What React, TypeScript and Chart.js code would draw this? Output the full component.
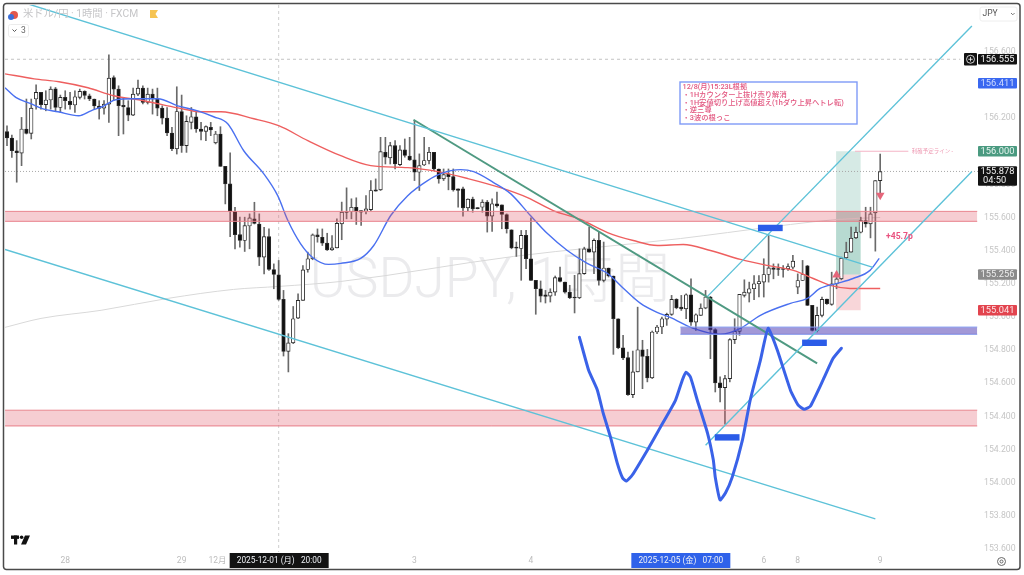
import React, { useEffect, useRef } from "react";
import { Chart, registerables } from "chart.js";

Chart.register(...registerables);

const opens = [
156.118,156.080,156.003,155.989,156.134,156.108,156.315,156.355,156.281,156.309,
156.377,156.264,156.325,156.301,156.279,156.325,156.361,156.335,156.315,156.273,
156.260,156.284,156.445,156.375,156.277,156.264,156.218,156.345,156.381,156.295,
156.345,156.315,156.260,156.200,156.110,156.015,156.240,156.034,156.174,156.208,
156.134,156.120,156.144,156.050,156.104,155.909,155.803,155.638,155.497,155.461,
155.549,155.592,155.561,155.361,155.485,155.286,155.254,155.106,154.792,154.843,
154.993,155.100,155.286,155.351,155.495,155.481,155.445,155.405,155.417,155.562,
155.636,155.636,155.662,155.642,155.638,155.648,155.767,155.767,155.994,155.960,
156.034,155.919,156.008,155.970,155.948,155.873,155.917,155.944,155.994,155.893,
155.833,155.863,155.847,155.773,155.773,155.658,155.711,155.660,155.662,155.693,
155.608,155.683,155.676,155.618,155.526,155.421,155.413,155.492,155.351,155.221,
155.170,155.134,155.126,155.150,155.237,155.211,155.150,155.120,155.116,155.261,
155.411,155.391,155.462,155.221,155.295,155.247,154.989,154.814,154.754,154.531,
154.668,154.802,154.762,154.632,154.909,154.939,154.987,155.015,155.106,155.059,
155.049,155.134,154.969,155.009,155.053,155.120,154.923,154.602,154.573,154.628,
154.863,154.913,155.130,155.144,155.170,155.200,155.210,155.256,155.296,155.292,
155.292,155.290,155.300,155.180,155.220,155.308,155.070,154.919,155.009,155.108,
155.076,155.200,155.230,155.357,155.391,155.477,155.511,155.582,155.562,155.628,155.823];

const closes = [
156.080,156.003,155.991,156.134,156.108,156.260,156.355,156.281,156.309,156.375,
156.264,156.325,156.305,156.281,156.329,156.361,156.337,156.315,156.273,156.258,
156.284,156.441,156.375,156.275,156.268,156.218,156.345,156.381,156.295,156.345,
156.315,156.260,156.200,156.110,156.015,156.240,156.034,156.180,156.208,156.134,
156.120,156.148,156.128,156.104,155.909,155.803,155.638,155.497,155.461,155.551,
155.598,155.565,155.361,155.485,155.286,155.256,155.106,154.792,154.843,154.989,
155.100,155.284,155.351,155.495,155.485,155.445,155.405,155.417,155.565,155.632,
155.630,155.662,155.636,155.632,155.652,155.763,155.759,155.998,155.964,156.034,
155.923,156.008,155.974,155.948,155.873,155.913,155.944,155.994,155.893,155.833,
155.859,155.847,155.767,155.763,155.658,155.711,155.652,155.654,155.693,155.608,
155.683,155.670,155.618,155.532,155.417,155.415,155.492,155.351,155.221,155.170,
155.126,155.124,155.150,155.237,155.215,155.150,155.116,155.114,155.261,155.411,
155.391,155.462,155.221,155.295,155.247,154.990,154.814,154.752,154.531,154.668,
154.802,154.762,154.632,154.909,154.939,154.989,155.015,155.106,155.055,155.049,
155.134,154.969,155.013,155.053,155.120,154.923,154.602,154.573,154.628,154.863,
154.913,155.136,155.150,155.170,155.200,155.214,155.256,155.296,155.286,155.286,
155.286,155.304,155.337,155.220,155.256,155.069,154.919,155.009,155.106,155.080,
155.200,155.230,155.355,155.391,155.475,155.511,155.582,155.562,155.622,155.823,155.877];

const highs = [
156.154,156.098,156.064,156.204,156.315,156.315,156.401,156.355,156.365,156.389,
156.385,156.339,156.365,156.355,156.365,156.375,156.365,156.345,156.315,156.305,
156.305,156.582,156.455,156.395,156.325,156.305,156.381,156.429,156.395,156.381,
156.375,156.381,156.274,156.264,156.144,156.389,156.339,156.214,156.264,156.244,
156.174,156.154,156.174,156.120,156.148,155.909,155.991,155.662,155.602,155.602,
155.622,155.692,155.622,155.541,155.531,155.320,155.341,155.160,154.899,155.063,
155.140,155.310,155.391,155.501,155.531,155.531,155.505,155.491,155.592,155.693,
155.779,155.713,155.719,155.642,155.733,155.823,155.833,156.084,156.084,156.054,
156.064,156.034,156.074,156.084,156.185,155.984,156.084,156.024,155.994,155.893,
155.893,155.893,155.893,155.773,155.783,155.713,155.723,155.660,155.707,155.703,
155.713,155.753,155.676,155.622,155.526,155.452,155.522,155.522,155.598,155.221,
155.217,155.160,155.170,155.247,155.301,155.211,155.191,155.251,155.411,155.421,
155.542,155.472,155.512,155.452,155.295,155.247,154.989,154.889,154.788,154.794,
155.059,154.859,154.804,154.915,154.949,154.999,155.023,155.130,155.110,155.130,
155.140,155.230,155.019,155.079,155.160,155.124,154.929,154.638,154.648,154.869,
154.989,155.136,155.224,155.210,155.250,155.250,155.351,155.491,155.320,155.320,
155.310,155.320,155.371,155.260,155.341,155.311,155.070,155.059,155.120,155.108,
155.270,155.270,155.361,155.451,155.542,155.542,155.602,155.662,155.662,155.823,155.983];

const lows = [
156.034,155.963,155.813,155.913,156.104,156.074,156.254,156.254,156.244,156.254,
156.244,156.234,156.254,156.254,156.234,156.315,156.315,156.305,156.254,156.194,
156.224,156.174,156.305,156.094,156.104,156.184,156.214,156.335,156.285,156.285,
156.224,156.214,156.164,156.094,156.003,155.983,155.993,155.993,156.134,156.114,
156.068,156.064,156.094,156.044,155.909,155.682,155.485,155.411,155.421,155.395,
155.411,155.561,155.310,155.260,155.280,155.170,155.100,154.764,154.668,154.839,
154.989,155.100,155.270,155.345,155.451,155.431,155.401,155.401,155.417,155.466,
155.592,155.592,155.558,155.552,155.622,155.642,155.759,155.763,155.923,155.923,
155.893,155.913,155.964,155.944,155.823,155.763,155.913,155.923,155.883,155.807,
155.823,155.767,155.759,155.662,155.608,155.642,155.632,155.652,155.632,155.512,
155.516,155.662,155.532,155.506,155.411,155.365,155.221,155.291,155.221,155.016,
155.090,155.084,155.090,155.130,155.211,155.144,155.110,155.024,155.110,155.257,
155.391,155.261,155.191,155.211,155.241,154.774,154.808,154.742,154.527,154.513,
154.668,154.567,154.608,154.628,154.899,154.899,154.949,155.009,155.049,155.039,
154.989,154.949,154.919,155.009,155.049,154.748,154.547,154.487,154.353,154.608,
154.839,154.889,155.120,155.090,155.104,155.120,155.120,155.210,155.230,155.250,
155.240,155.280,155.290,155.140,155.220,155.069,154.915,154.909,155.000,155.075,
155.070,155.170,155.224,155.351,155.391,155.473,155.507,155.542,155.477,155.397,155.732];

const blueMaX = [-0.4,1.9,4.9,7.4,10.5,14.8,17.3,20,22.4,26.2,31.1,35.2,39.3,42.6,45.5,48.8,52.9,55.8,57.9,60.5,63,66.3,68.8,72.9,75.6,79.1,82.6,86.7,89.4,93.5,96.2,100.3,103.8,107.9,111.4,115.5,119.6,123.8,127.1,130.6,134,136.7,141.5,147,151.2,155.3,161.5,165,167.6,171.1,174.4,177.9,179.8];
const blueMaY = [156.383,156.323,156.287,156.256,156.238,156.214,156.244,156.274,156.311,156.317,156.317,156.274,156.244,156.208,156.166,156.003,155.865,155.732,155.582,155.443,155.359,155.317,155.323,155.353,155.431,155.612,155.732,155.823,155.865,155.889,155.877,155.811,155.744,155.612,155.503,155.401,155.323,155.262,155.172,155.082,155.028,154.997,154.931,154.895,154.931,155.010,155.082,155.112,155.172,155.202,155.232,155.281,155.353];

const redMaX = [-0.4,5.6,10.7,16.7,22,28.2,35.2,40,44.1,50.9,56,62,68.8,75,82.6,88.8,95,101.7,107.3,112.6,118.2,123.8,129.1,134.1,139.4,145,151.2,156.7,162.1,166.2,169.7,173.8,180];
const redMaY = [156.467,156.437,156.419,156.383,156.335,156.305,156.262,156.238,156.238,156.196,156.154,156.064,155.973,155.913,155.901,155.877,155.835,155.780,155.720,155.642,155.588,155.509,155.461,155.431,155.437,155.401,155.347,155.311,155.281,155.232,155.190,155.172,155.172];

const grayMaX = [-0.4,7,19.4,33.2,46.7,56,68.8,104.4,138.8,148.5,161.5,171.1,180];
const grayMaY = [154.937,154.991,155.040,155.112,155.166,155.184,155.214,155.365,155.473,155.509,155.558,155.588,155.600];

const waveX = [118,119.9,121.7,122.9,124.4,125.8,126.9,127.7,128.9,132,134.7,137.8,139.2,140,140.9,142.3,144.4,145.6,146,147,148.1,149.5,151.6,153.2,155.3,156.9,158.8,161.5,163.1,164.3,165.6,168.2,170.3,172];
const waveY = [154.877,154.678,154.558,154.419,154.275,154.118,154.028,154.009,154.046,154.196,154.335,154.497,154.618,154.666,154.636,154.497,154.299,154.136,154.033,153.895,153.937,154.033,154.256,154.497,154.738,154.931,154.799,154.558,154.467,154.443,154.461,154.618,154.750,154.811];

const channelLines = [
  { x: [4.3, 178.5], y: [156.889, 155.299] },
  { x: [-0.4, 179], y: [155.407, 153.781] },
  { x: [144.4, 198.9], y: [155.124, 156.756] },
  { x: [144, 198.9], y: [154.226, 155.877] },
];
const greenTrendX = [83.8, 167];
const greenTrendY = [156.19, 154.72];

const zonePrices = [
  [155.577, 155.637],
  [154.342, 154.437],
];
const zoneSpan = [-0.4, 200];
const supportZone = [154.895, 154.939];
const supportSpan = [138.8, 200];

const positionSpan = [170.9, 176];
const targetPrice = 156.0;
const entryPrice = 155.256;
const stopPrice = 155.041;
const lastPrice = 155.878;
const crosshairPrice = 156.555;
const crosshairIndex = 56;
const overlapLow = 155.637;
const profitLineX = [174.8, 185.8];

const swingMarkX = [[154.8, 159.9], [163.9, 169], [145.9, 151]];
const swingMarkY = [155.537, 154.844, 154.273];
const upArrow = { x: 171, y: 155.253 };
const downArrow = { x: 180, y: 155.735 };
const pipsLabel = { x: 181.2, y: 155.485, text: "+45.7p" };
const profitLabel = { x: 186.5, y: 156.0, text: "利確予定ライン -" };

const yTickValues = [156.6, 156.4, 156.2, 156.0, 155.8, 155.6, 155.4, 155.2, 155.0, 154.8, 154.6, 154.4, 154.2, 154.0, 153.8, 153.6];
const xTickValues = [12, 36, 43.4, 84, 108, 156, 163, 180];
const xTickLabels = ["28", "29", "12月", "3", "4", "6", "8", "9"];
const xTags = [
  { x: 56, text: "2025-12-01 (月)   20:00", color: "#131313" },
  { x: 138.8, text: "2025-12-05 (金)   07:00", color: "#2f62ea" },
];
const priceTags = [
  { price: 156.555, text: "156.555", bg: "#131313", fg: "#f2f2f2" },
  { price: 156.411, text: "156.411", bg: "#3a68f0", fg: "#cfdcff" },
  { price: 156.0, text: "156.000", bg: "#4a9a80", fg: "#e6f4ef" },
  { price: 155.878, text: "155.878", sub: "04:50", bg: "#131313", fg: "#f2f2f2" },
  { price: 155.256, text: "155.256", bg: "#8a8a8a", fg: "#eeeeee" },
  { price: 155.041, text: "155.041", bg: "#e2444e", fg: "#fde4e6" },
];
const noteLines = [
  "12/8(月)15:23L根拠",
  "・1Hカウンター上抜け売り解消",
  "・1H安値切り上げ高値超え(1hダウ上昇ヘトレ転)",
  "・逆三尊",
  "・3波の根っこ",
];
const headerTitle = "米ドル/円 · 1時間 · FXCM";
const watermark = "USDJPY, 1時間";

const FONT = "Roboto, 'Noto Sans CJK JP', sans-serif";
const PMAX = 156.8825;
const PMIN = 153.5813;
const XMIN = -0.412;
const XMAX = 200.16;

const zip = (xs: number[], ys: number[]) => xs.map((x, i) => ({ x, y: ys[i] }));
const hline = (xs: number[], p: number) => xs.map((x) => ({ x, y: p }));

const line = (data: any[], color: string, width: number, order: number, extra: any = {}) => ({
  type: "line",
  data,
  borderColor: color,
  borderWidth: width,
  pointRadius: 0,
  order,
  ...extra,
});

const band = (xs: number[], low: number, high: number, fill: string, edge: string | null, order: number) => {
  const out: any[] = [
    line(hline(xs, high), edge || "transparent", edge ? 1 : 0, order, {
      fill: { target: { value: low } },
      backgroundColor: fill,
    }),
  ];
  if (edge) out.push(line(hline(xs, low), edge, 1, order));
  return out;
};

const overlay = {
  id: "overlay",
  beforeDatasetsDraw(chart: any) {
    const { ctx, chartArea: a } = chart;
    ctx.save();
    ctx.beginPath();
    ctx.rect(a.left, a.top, a.right - a.left, a.bottom - a.top);
    ctx.clip();
    ctx.fillStyle = "#ebebed";
    ctx.font = `300 55px ${FONT}`;
    ctx.textAlign = "center";
    ctx.textBaseline = "middle";
    ctx.fillText(watermark, 490, 283);
    ctx.restore();
  },
  afterDraw(chart: any) {
    const { ctx, scales } = chart;
    const sx = scales.x;
    const sy = scales.y;
    ctx.save();
    ctx.textBaseline = "middle";

    // annotation box
    ctx.strokeStyle = "#7f9bf7";
    ctx.lineWidth = 1.4;
    ctx.fillStyle = "#ffffff";
    ctx.fillRect(680, 82, 177, 42);
    ctx.strokeRect(680, 82, 177, 42);
    ctx.fillStyle = "#e2557f";
    ctx.textAlign = "left";
    ctx.font = `500 7.3px ${FONT}`;
    noteLines.forEach((t, i) => ctx.fillText(t, 682.5, 87.5 + i * 7.7));

    // labels tied to data
    ctx.fillStyle = "#e9527f";
    ctx.font = `700 8.6px ${FONT}`;
    ctx.fillText(pipsLabel.text, sx.getPixelForValue(pipsLabel.x), sy.getPixelForValue(pipsLabel.y));
    ctx.fillStyle = "#ee9ab3";
    ctx.font = `400 5.5px ${FONT}`;
    ctx.fillText(profitLabel.text, sx.getPixelForValue(profitLabel.x), sy.getPixelForValue(profitLabel.y));

    // header
    ctx.fillStyle = "#e2574c";
    ctx.beginPath();
    ctx.arc(14, 15, 4, 0, Math.PI * 2);
    ctx.fill();
    ctx.fillStyle = "#3b6fd8";
    ctx.beginPath();
    ctx.arc(11, 17, 3, 0, Math.PI * 2);
    ctx.fill();
    ctx.fillStyle = "#c6c6c8";
    ctx.font = `400 10.3px ${FONT}`;
    ctx.fillText(headerTitle, 23, 14.5);
    ctx.fillStyle = "#f6c453";
    ctx.beginPath();
    ctx.moveTo(150, 10);
    ctx.lineTo(158, 10);
    ctx.lineTo(155.5, 14);
    ctx.lineTo(158, 18);
    ctx.lineTo(150, 18);
    ctx.closePath();
    ctx.fill();
    ctx.strokeStyle = "#ececec";
    ctx.lineWidth = 1;
    ctx.beginPath();
    ctx.roundRect(8.5, 24.5, 20, 12.5, 2);
    ctx.stroke();
    ctx.fillStyle = "#666";
    ctx.font = `400 8.5px ${FONT}`;
    ctx.fillText("3", 21, 31);
    ctx.strokeStyle = "#555";
    ctx.beginPath();
    ctx.moveTo(12.5, 29.5);
    ctx.lineTo(14.5, 31.5);
    ctx.lineTo(16.5, 29.5);
    ctx.stroke();

    // JPY selector
    ctx.strokeStyle = "#eeeeee";
    ctx.beginPath();
    ctx.roundRect(980, 7, 37, 14, 2);
    ctx.stroke();
    ctx.fillStyle = "#555";
    ctx.font = `400 8.5px ${FONT}`;
    ctx.fillText("JPY", 982.5, 14);
    ctx.strokeStyle = "#777";
    ctx.beginPath();
    ctx.moveTo(1011, 13);
    ctx.lineTo(1012.8, 14.8);
    ctx.lineTo(1014.6, 13);
    ctx.stroke();

    // price tags
    ctx.font = `400 9.3px ${FONT}`;
    priceTags.forEach((t) => {
      const y = sy.getPixelForValue(t.price);
      const h = t.sub ? 19.5 : 10.5;
      const top = y - 5.2;
      ctx.fillStyle = t.bg;
      ctx.beginPath();
      ctx.roundRect(978, top, 39, h, 1);
      ctx.fill();
      ctx.fillStyle = t.fg;
      ctx.textAlign = "center";
      ctx.fillText(t.text, 997.5, y + 0.3);
      if (t.sub) {
        ctx.textAlign = "left";
        ctx.fillText(t.sub, 983, y + 9);
      }
    });
    // plus button
    const cy = sy.getPixelForValue(crosshairPrice);
    ctx.fillStyle = "#131313";
    ctx.beginPath();
    ctx.roundRect(964, cy - 6.2, 13, 12.5, 1);
    ctx.fill();
    ctx.strokeStyle = "#ffffff";
    ctx.lineWidth = 0.8;
    ctx.beginPath();
    ctx.arc(970.5, cy, 4, 0, Math.PI * 2);
    ctx.moveTo(968.3, cy);
    ctx.lineTo(972.7, cy);
    ctx.moveTo(970.5, cy - 2.2);
    ctx.lineTo(970.5, cy + 2.2);
    ctx.stroke();

    // time tags
    ctx.font = `400 8.3px ${FONT}`;
    ctx.textAlign = "center";
    xTags.forEach((t) => {
      const x = sx.getPixelForValue(t.x);
      ctx.fillStyle = t.color;
      ctx.fillRect(x - 49, 553, 99, 15);
      ctx.fillStyle = "#eef1f6";
      ctx.fillText(t.text, x + 0.5, 561);
    });

    // logo
    ctx.fillStyle = "#111";
    ctx.fillRect(11, 535.5, 8, 3.4);
    ctx.fillRect(14, 535.5, 3.2, 9);
    ctx.beginPath();
    ctx.arc(21.6, 537.2, 1.8, 0, Math.PI * 2);
    ctx.fill();
    ctx.beginPath();
    ctx.moveTo(25, 535.5);
    ctx.lineTo(30, 535.5);
    ctx.lineTo(26, 544.5);
    ctx.lineTo(21, 544.5);
    ctx.closePath();
    ctx.fill();

    // gear
    ctx.strokeStyle = "#666";
    ctx.lineWidth = 1;
    ctx.beginPath();
    ctx.arc(1001.5, 561.5, 4, 0, Math.PI * 2);
    ctx.stroke();
    ctx.beginPath();
    ctx.arc(1001.5, 561.5, 1.5, 0, Math.PI * 2);
    ctx.stroke();

    // frame
    ctx.strokeStyle = "#4a4a4a";
    ctx.lineWidth = 1.5;
    ctx.beginPath();
    ctx.roundRect(3.5, 3.5, 1016.5, 566, 3);
    ctx.stroke();
    ctx.restore();
  },
};

export default function App() {
  const ref = useRef<HTMLCanvasElement>(null);
  useEffect(() => {
    document.body.style.margin = "0";
    document.body.style.background = "#ffffff";
    Chart.defaults.font.family = FONT;
    const idx = opens.map((_, i) => i);
    const bodyColor = idx.map((i) => (closes[i] >= opens[i] ? "#ffffff" : "#111111"));
    const datasets: any[] = [
      {
        type: "bar",
        data: idx.map((i) => ({ x: i, y: [opens[i], closes[i]] })),
        backgroundColor: bodyColor,
        borderColor: "#2a2a2a",
        borderWidth: 0.9,
        borderSkipped: false,
        barThickness: 3.6,
        grouped: false,
        order: 20,
      },
      {
        type: "bar",
        data: idx.map((i) => ({ x: i, y: [lows[i], highs[i]] })),
        backgroundColor: "#6a6a6a",
        barThickness: 1,
        grouped: false,
        order: 21,
      },
      ...band(positionSpan, entryPrice, targetPrice, "rgba(92,170,150,0.25)", null, 30),
      ...band(positionSpan, entryPrice, overlapLow, "rgba(92,170,150,0.25)", null, 30),
      ...band(positionSpan, stopPrice, entryPrice, "rgba(232,120,130,0.3)", null, 30),
      line(hline(profitLineX, targetPrice), "#f4b4c6", 1.2, 5),
      line(zip(grayMaX, grayMaY), "#d9d9d9", 1, 25, { cubicInterpolationMode: "monotone" }),
      line(zip(redMaX, redMaY), "#ee5f5f", 1.4, 10, { cubicInterpolationMode: "monotone" }),
      line(zip(blueMaX, blueMaY), "#4a70f0", 1.4, 9, { cubicInterpolationMode: "monotone" }),
      ...zonePrices.flatMap((z) => band(zoneSpan, z[0], z[1], "rgba(226,90,105,0.3)", "#e9868f", 8)),
      ...band(supportSpan, supportZone[0], supportZone[1], "rgba(70,50,175,0.5)", "#8fa8f5", 7),
      ...channelLines.map((c) => line(zip(c.x, c.y), "#5dc2d8", 1.4, 6)),
      line(zip(greenTrendX, greenTrendY), "#4f9a82", 2, 6),
      line(zip(waveX, waveY), "#3a62e8", 3, 4, { tension: 0.15, borderCapStyle: "round", borderJoinStyle: "round" }),
      ...swingMarkX.map((xs, i) =>
        line(hline(xs, swingMarkY[i]), "#2b5ce8", 6.4, 3, { borderCapStyle: "butt" })
      ),
      line(hline([XMIN, 196.5], crosshairPrice), "#c4c4c4", 1, 26, { borderDash: [3, 3] }),
      line(hline([XMIN, XMAX], lastPrice), "#a8a8a8", 1, 26, { borderDash: [1, 2] }),
      line(
        [
          { x: crosshairIndex, y: PMAX },
          { x: crosshairIndex, y: PMIN },
        ],
        "#cfcfcf",
        1,
        26,
        { borderDash: [3, 3] }
      ),
      line([upArrow], "#e5566e", 0, 2, {
        showLine: false,
        pointRadius: 5,
        pointStyle: "triangle",
        pointBackgroundColor: "#e5667a",
        pointBorderWidth: 0,
      }),
      line([downArrow], "#e5566e", 0, 2, {
        showLine: false,
        pointRadius: 5,
        pointStyle: "triangle",
        pointRotation: 180,
        pointBackgroundColor: "#e5667a",
        pointBorderWidth: 0,
      }),
    ];
    const chart = new Chart(ref.current!, {
      type: "bar",
      data: { datasets },
      options: {
        responsive: false,
        animation: false,
        events: [],
        layout: { padding: { left: 4, top: 4, right: 0, bottom: 0 } },
        plugins: { legend: { display: false }, tooltip: { enabled: false }, title: { display: false } },
        scales: {
          x: {
            type: "linear",
            min: XMIN,
            max: XMAX,
            offset: false,
            grid: { display: false, drawTicks: false, offset: false },
            border: { display: false },
            afterBuildTicks: (s: any) => {
              s.ticks = xTickValues.map((value) => ({ value }));
            },
            afterFit: (s: any) => {
              s.height = 23;
              s.paddingLeft = 0;
              s.paddingRight = 0;
            },
            ticks: {
              autoSkip: false,
              maxRotation: 0,
              padding: 4,
              color: "#bdbdbd",
              font: { size: 8.5 },
              callback: (v: any) => xTickLabels[xTickValues.indexOf(v)] ?? "",
            },
          },
          y: {
            type: "linear",
            position: "right",
            min: PMIN,
            max: PMAX,
            grid: { display: false, drawTicks: false },
            border: { display: false },
            afterBuildTicks: (s: any) => {
              s.ticks = yTickValues.map((value) => ({ value }));
            },
            afterFit: (s: any) => {
              s.width = 46;
              s.paddingTop = 0;
              s.paddingBottom = 0;
            },
            ticks: {
              autoSkip: false,
              padding: 6,
              color: "#c6c6c6",
              font: { size: 8.7 },
              callback: (v: any) => Number(v).toFixed(3),
            },
          },
        },
      } as any,
      plugins: [overlay],
    } as any);
    return () => chart.destroy();
  }, []);
  return (
    <div style={{ position: "absolute", left: 0, top: 0, width: 1024, height: 575 }}>
      <canvas ref={ref} width={1024} height={575} style={{ display: "block" }} />
    </div>
  );
}
